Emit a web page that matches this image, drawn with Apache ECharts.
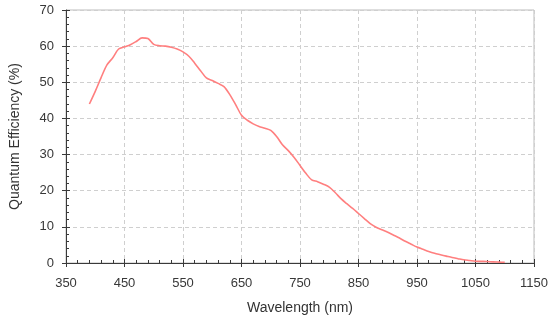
<!DOCTYPE html>
<html>
<head>
<meta charset="utf-8">
<script src="https://cdn.jsdelivr.net/npm/echarts@6/dist/echarts.min.js"></script>
<style>
  html, body { margin: 0; padding: 0; background: #fff; }
  #chart { width: 554px; height: 331px; }
</style>
</head>
<body>
<div id="chart"></div>
<script>
// Spectral response: wavelength (nm) against quantum efficiency (%)
const wavelengths = [
  390, 400, 410, 420, 430, 440, 450, 460, 470, 480,
  490, 500, 510, 520, 530, 540, 550, 560, 570, 580,
  590, 600, 610, 620, 630, 640, 650, 660, 670, 680,
  690, 700, 710, 720, 730, 740, 750, 760, 770, 780,
  790, 800, 810, 820, 830, 840, 850, 860, 870, 880,
  890, 900, 910, 920, 930, 940, 950, 960, 970, 980,
  990, 1000, 1010, 1020, 1030, 1040, 1050, 1060, 1070, 1080,
  1090, 1100
];
const efficiency = [
  44.0, 47.5, 51.3, 54.8, 56.8, 59.2, 59.8, 60.4, 61.3, 62.3,
  62.1, 60.5, 60.1, 60.0, 59.7, 59.2, 58.4, 57.2, 55.3, 53.2,
  51.2, 50.5, 49.7, 48.8, 46.6, 43.8, 40.9, 39.5, 38.5, 37.8,
  37.3, 36.7, 35.0, 32.7, 31.1, 29.2, 27.0, 24.8, 23.0, 22.5,
  21.8, 21.0, 19.5, 17.8, 16.4, 15.1, 13.7, 12.3, 10.9, 9.9,
  9.2, 8.5, 7.7, 6.9, 6.0, 5.2, 4.4, 3.8, 3.2, 2.7,
  2.3, 1.9, 1.5, 1.2, 0.9, 0.7, 0.5, 0.45, 0.4, 0.3,
  0.25, 0.2
];
const xRange = { min: 350, max: 1150, step: 100 };
const yRange = { min: 0, max: 70, step: 10 };
const xTitle = 'Wavelength (nm)';
const yTitle = 'Quantum Efficiency (%)';

const FONT = '"Liberation Sans", Arial, sans-serif';
const AXIS_DARK = '#3a3a3a';
const points = wavelengths.map((w, i) => [w, efficiency[i]]);
const plain = v => String(v);

const chart = echarts.init(document.getElementById('chart'), null, { renderer: 'canvas' });

// Main axes carry labels, grid lines, inward ticks; companion axes add the outward half of major ticks
const mainX = {
  type: 'value', position: 'bottom',
  min: xRange.min, max: xRange.max, interval: xRange.step,
  name: xTitle, nameLocation: 'middle', nameGap: 38,
  nameTextStyle: { fontFamily: FONT, fontSize: 14, color: '#333' },
  axisLine: { show: true, onZero: false, lineStyle: { color: AXIS_DARK, width: 1 } },
  axisTick: { show: true, inside: true, length: 4, lineStyle: { color: AXIS_DARK } },
  minorTick: { show: true, splitNumber: 5, length: 3, lineStyle: { color: AXIS_DARK } },
  axisLabel: { fontFamily: FONT, fontSize: 13, color: '#383838', margin: 14, formatter: plain },
  splitLine: { show: true, lineStyle: { color: '#cfcfcf', type: [4, 3], width: 1 } }
};
const outerX = {
  type: 'value', position: 'bottom', offset: 0,
  min: xRange.min, max: xRange.max, interval: xRange.step,
  axisLine: { show: false },
  axisTick: { show: true, inside: false, length: 4, lineStyle: { color: AXIS_DARK } },
  axisLabel: { show: false },
  splitLine: { show: false }
};
const mainY = {
  type: 'value', position: 'left',
  min: yRange.min, max: yRange.max, interval: yRange.step,
  name: yTitle, nameLocation: 'middle', nameGap: 44, nameRotate: 90,
  nameTextStyle: { fontFamily: FONT, fontSize: 14, color: '#333' },
  axisLine: { show: true, onZero: false, lineStyle: { color: AXIS_DARK, width: 1 } },
  axisTick: { show: true, inside: true, length: 4, lineStyle: { color: AXIS_DARK } },
  minorTick: { show: true, splitNumber: 5, length: 3, lineStyle: { color: AXIS_DARK } },
  axisLabel: { fontFamily: FONT, fontSize: 13, color: '#383838', margin: 12, formatter: plain },
  splitLine: { show: true, lineStyle: { color: '#cfcfcf', type: [4, 3], width: 1 } }
};
const outerY = {
  type: 'value', position: 'left', offset: 0,
  min: yRange.min, max: yRange.max, interval: yRange.step,
  axisLine: { show: false },
  axisTick: { show: true, inside: false, length: 4, lineStyle: { color: AXIS_DARK } },
  axisLabel: { show: false },
  splitLine: { show: false }
};

chart.setOption({
  animation: false,
  backgroundColor: '#ffffff',
  grid: {
    left: 64, right: 20, top: 10, bottom: 68,
    show: true, borderColor: '#bdbdbd', borderWidth: 1, backgroundColor: 'transparent'
  },
  xAxis: [mainX, outerX],
  yAxis: [mainY, outerY],
  series: [{
    type: 'line',
    xAxisIndex: 0, yAxisIndex: 0,
    data: points,
    smooth: 0.3,
    showSymbol: false,
    lineStyle: { color: '#ff7f7f', width: 1.6 },
    z: 3
  }]
});
</script>
</body>
</html>
